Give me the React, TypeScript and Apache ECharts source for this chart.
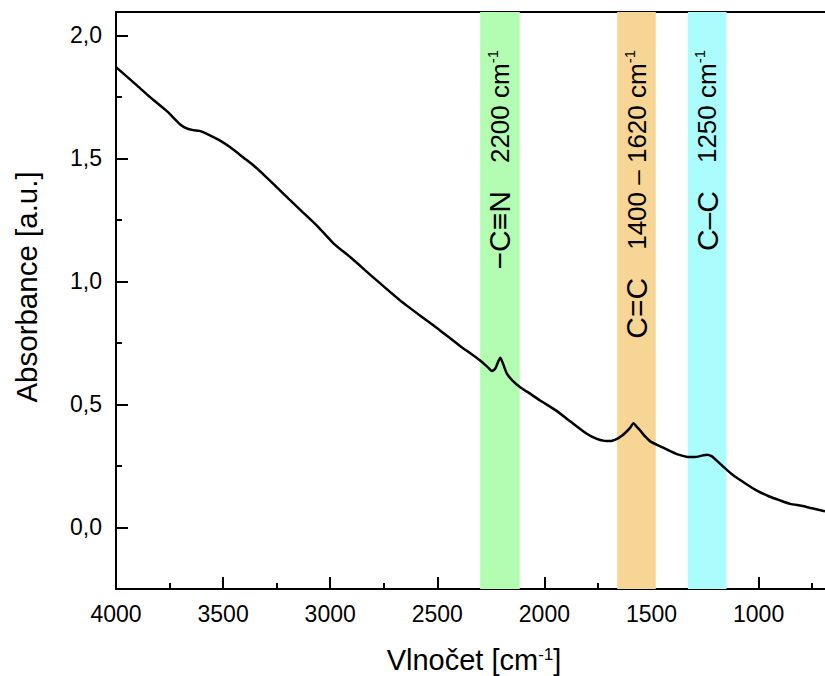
import React, { useEffect, useRef } from 'react';
import * as echarts from 'echarts';

const wavenumbers = [
  4000, 3900, 3841, 3760, 3700, 3670, 3640, 3610, 3576, 3520, 3468, 3400, 3359, 3300, 3219,
  3141, 3060, 2985, 2900, 2800, 2674, 2560, 2487, 2400, 2300, 2265, 2245, 2230, 2215, 2206,
  2195, 2175, 2150, 2113, 2060, 2020, 1950, 1880, 1802, 1755, 1720, 1693, 1661, 1640, 1622,
  1600, 1584, 1570, 1553, 1530, 1506, 1459, 1420, 1381, 1340, 1319, 1290, 1260, 1241, 1220,
  1195, 1160, 1117, 1060, 1008, 950, 900, 852, 800, 750, 690,
];
const absorbance = [
  1.871, 1.795, 1.749, 1.69, 1.638, 1.622, 1.615, 1.612, 1.6, 1.575, 1.546, 1.5, 1.472, 1.425, 1.357,
  1.292, 1.225, 1.155, 1.094, 1.017, 0.923, 0.848, 0.801, 0.742, 0.679, 0.652, 0.636, 0.645, 0.675, 0.69,
  0.67, 0.625, 0.598, 0.57, 0.54, 0.516, 0.478, 0.432, 0.381, 0.36, 0.352, 0.351, 0.36, 0.372, 0.385,
  0.405, 0.424, 0.41, 0.394, 0.37, 0.35, 0.33, 0.313, 0.298, 0.288, 0.286, 0.287, 0.293, 0.296, 0.29,
  0.272, 0.243, 0.211, 0.178, 0.15, 0.126, 0.11, 0.096, 0.088, 0.078, 0.066,
];

const xMajorTicks = [1000, 1500, 2000, 2500, 3000, 3500, 4000];
const xMinorTicks = [750, 1250, 1750, 2250, 2750, 3250, 3750];
const yMajorTicks = [0, 0.5, 1, 1.5, 2];
const yMinorTicks = [0.25, 0.75, 1.25, 1.75];

const bandStarts = [2300, 1660, 1330];
const bandEnds = [2115, 1480, 1150];
const bandColors = ['#b3fdb3', '#f7d594', '#abfdfd'];
const bandChem = ['−C≡N', 'C=C', 'C–C'];
const bandWave = ['2200 cm', '1400 – 1620 cm', '1250 cm'];

const FONT = '"Liberation Sans", Arial, sans-serif';

export default function App() {
  const ref = useRef<HTMLDivElement>(null);
  useEffect(() => {
    if (!ref.current) return;
    const chart = echarts.init(ref.current, null, { renderer: 'svg' });
    const axisLineStyle = { color: '#000', width: 2 };
    chart.setOption({
      animation: false,
      grid: { left: 116, right: 0, top: 12, bottom: 87, containLabel: false },
      xAxis: [
        {
          type: 'value', inverse: true, min: 690, max: 4000, position: 'bottom',
          axisLine: { show: true, onZero: false, lineStyle: axisLineStyle },
          axisTick: { show: true, inside: true, length: 12, lineStyle: { color: '#000', width: 2 }, customValues: xMajorTicks },
          axisLabel: {
            show: true, customValues: xMajorTicks, fontSize: 23, color: '#000', fontFamily: FONT, margin: 13,
            formatter: (v: number) => String(v),
          },
          splitLine: { show: false },
        },
        {
          type: 'value', inverse: true, min: 690, max: 4000, position: 'bottom',
          axisLine: { show: false, onZero: false },
          axisTick: { show: true, inside: true, length: 6, lineStyle: { color: '#000', width: 2 }, customValues: xMinorTicks },
          axisLabel: { show: false },
          splitLine: { show: false },
        },
        {
          type: 'value', inverse: true, min: 690, max: 4000, position: 'top',
          axisLine: { show: true, onZero: false, lineStyle: axisLineStyle },
          axisTick: { show: false },
          axisLabel: { show: false },
          splitLine: { show: false },
        },
      ],
      yAxis: [
        {
          type: 'value', min: -0.25, max: 2.095, position: 'left',
          axisLine: { show: true, onZero: false, lineStyle: axisLineStyle },
          axisTick: { show: true, inside: true, length: 12, lineStyle: { color: '#000', width: 2 }, customValues: yMajorTicks },
          axisLabel: {
            show: true, customValues: yMajorTicks, fontSize: 23, color: '#000', fontFamily: FONT, margin: 14,
            formatter: (v: number) => v.toFixed(1).replace('.', ','),
          },
          splitLine: { show: false },
        },
        {
          type: 'value', min: -0.25, max: 2.095, position: 'left',
          axisLine: { show: false, onZero: false },
          axisTick: { show: true, inside: true, length: 6, lineStyle: { color: '#000', width: 2 }, customValues: yMinorTicks },
          axisLabel: { show: false },
          splitLine: { show: false },
        },
      ],
      series: [
        {
          type: 'line',
          xAxisIndex: 0,
          yAxisIndex: 0,
          data: wavenumbers.map((w, i) => [w, absorbance[i]]),
          showSymbol: false,
          symbol: 'none',
          smooth: 0.2,
          lineStyle: { color: '#000', width: 2.5 },
          z: 3,
          markArea: {
            silent: true,
            data: bandStarts.map((s, i) => [
              { xAxis: s, itemStyle: { color: bandColors[i], opacity: 1 } },
              { xAxis: bandEnds[i] },
            ]),
          },
        },
      ],
    });

    const labels = bandStarts.map((s, i) => {
      const cx = chart.convertToPixel({ xAxisIndex: 0 }, (s + bandEnds[i]) / 2) as number;
      return {
        type: 'text',
        x: cx,
        y: 50,
        rotation: Math.PI / 2,
        z: 10,
        style: {
          text: `{c|${bandChem[i]}}{g| }{n|${bandWave[i]}}{s|-1}`,
          align: 'right',
          verticalAlign: 'middle',
          fill: '#000',
          rich: {
            c: { fontSize: 30, fontFamily: FONT, fill: '#000' },
            g: { fontSize: 26, width: 28, fontFamily: FONT },
            n: { fontSize: 26, fontFamily: FONT, fill: '#000' },
            s: { fontSize: 15, fontFamily: FONT, fill: '#000', verticalAlign: 'top' },
          },
        },
      };
    });

    chart.setOption({
      graphic: [
        ...labels,
        {
          type: 'text',
          x: 26,
          y: 287,
          rotation: Math.PI / 2,
          style: {
            text: 'Absorbance [a.u.]',
            fontSize: 29.5,
            fontFamily: FONT,
            fill: '#000',
            align: 'center',
            verticalAlign: 'middle',
          },
        },
        {
          type: 'text',
          x: 474,
          y: 660,
          style: {
            text: '{t|Vlnočet [cm}{s|-1}{t|]}',
            align: 'center',
            verticalAlign: 'middle',
            fill: '#000',
            rich: {
              t: { fontSize: 29, fontFamily: FONT, fill: '#000' },
              s: { fontSize: 17, fontFamily: FONT, fill: '#000', verticalAlign: 'top' },
            },
          },
        },
      ],
    });

    return () => chart.dispose();
  }, []);
  return (
    <div
      ref={ref}
      style={{ position: 'fixed', left: 0, top: 0, width: 825, height: 676, background: '#fff' }}
    />
  );
}
